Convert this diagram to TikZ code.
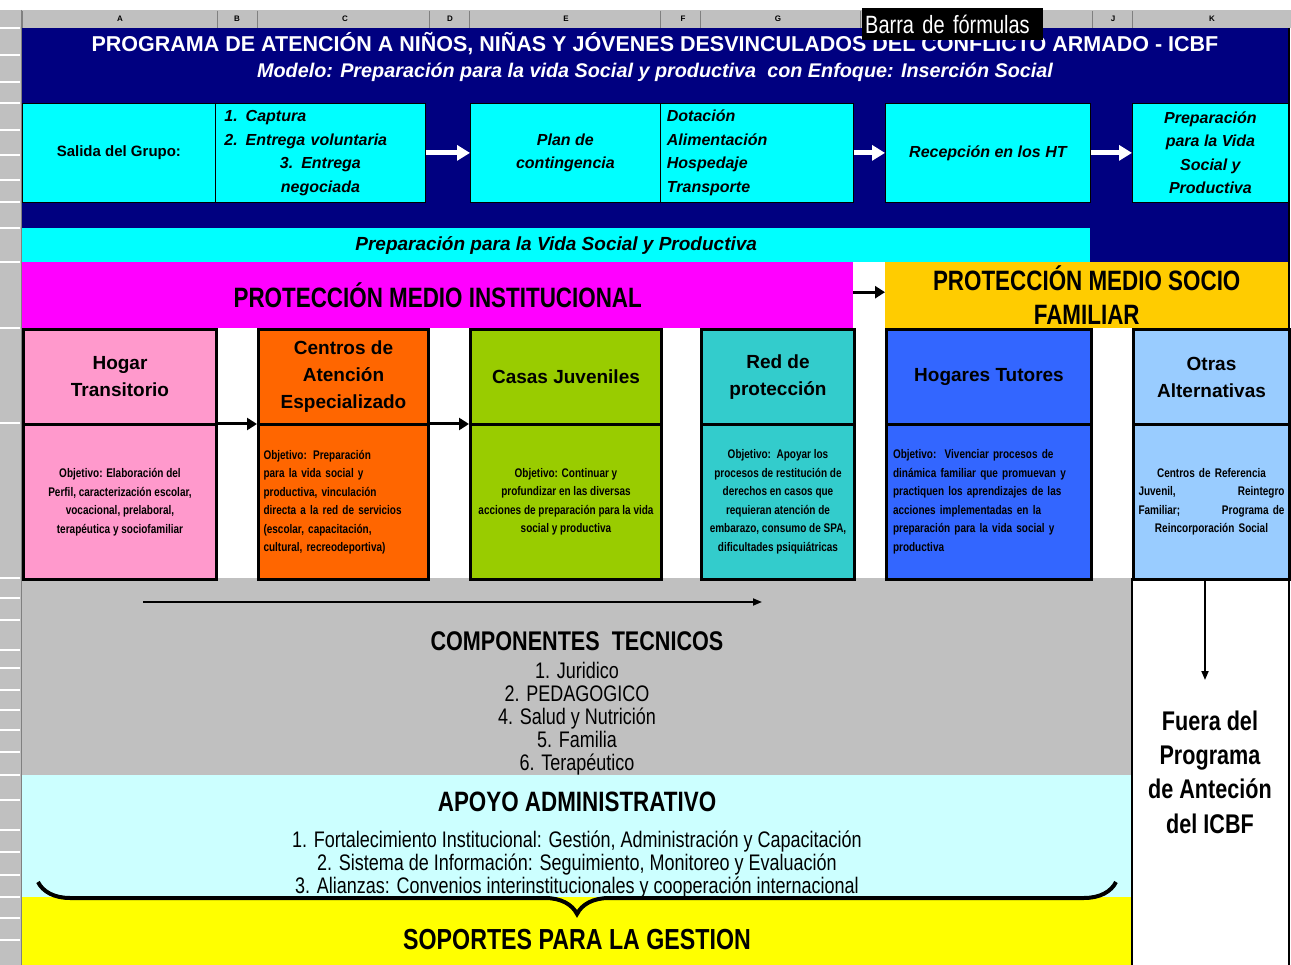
\documentclass[tikz,border=0pt]{standalone}
\usepackage{fontspec}
\setmainfont{Liberation Sans}
\newfontfamily\nar[FakeStretch=0.8]{Liberation Sans}
\usetikzlibrary{arrows.meta,decorations.pathreplacing}
\definecolor{navyc}{HTML}{000080}
\definecolor{cyanc}{HTML}{00FFFF}
\definecolor{magentac}{HTML}{FF00FF}
\definecolor{goldc}{HTML}{FFCC00}
\definecolor{pinkc}{HTML}{FF99CC}
\definecolor{orangec}{HTML}{FF6600}
\definecolor{greenc}{HTML}{99CC00}
\definecolor{tealc}{HTML}{33CCCC}
\definecolor{bluec}{HTML}{3366FF}
\definecolor{lbluec}{HTML}{99CCFF}
\definecolor{grayc}{HTML}{C0C0C0}
\definecolor{lcyanc}{HTML}{CCFFFF}
\definecolor{yellowc}{HTML}{FFFF00}
\definecolor{sheetgray}{HTML}{C0C0C0}
\definecolor{sheetline}{HTML}{808080}
\begin{document}
\begin{tikzpicture}[x=1pt,y=-1pt,
  cybox/.style={fill=cyanc, draw=black, line width=0.8pt, anchor=north west, inner sep=0pt, align=center, minimum height=99pt, font=\bfseries\itshape\fontsize{16}{23.5}\selectfont},
  tcell/.style={draw=black, line width=3pt, anchor=north west, inner sep=0pt, align=center, minimum height=95pt, font=\bfseries\fontsize{19}{27}\selectfont},
  ocell/.style={draw=black, line width=3pt, anchor=north west, inner sep=0pt, align=center, minimum height=155pt, font=\nar\bfseries\fontsize{12.5}{18.5}\selectfont},
  band/.style={anchor=north west, inner sep=0pt, draw=none},
  bigtxt/.style={inner sep=0pt, align=center, font=\nar\bfseries\fontsize{28}{30}\selectfont},
  listtxt/.style={inner sep=0pt, align=center, font=\nar\fontsize{22.5}{23}\selectfont},
  wArrow/.style={draw=white, line width=5pt, -{Triangle[length=13pt,width=15pt]}},
  bArrow/.style={draw=black, line width=3pt, -{Triangle[length=10pt,width=12pt]}},
  tArrow/.style={draw=black, line width=1.8pt, -{Triangle[length=9pt,width=7pt]}},
  colhead/.style={inner sep=0pt, font=\bfseries\fontsize{8}{8}\selectfont}
]
\useasboundingbox (0,0) rectangle (1291,965);
\fill[white] (0,0) rectangle (1291,965);
% spreadsheet chrome
\fill[sheetgray] (0,10) rectangle (1291,28);
\fill[sheetgray] (0,28) rectangle (22,965);
\foreach \x in {22,217,257,429,469,660,700,860,1092,1132}
  \draw[sheetline, line width=1pt] (\x,11) -- (\x,28);
\foreach \y in {28,55,82,103,130,155,180,202,228,262,328,423,578,598,620,650,668,690,710,730,752,775,800,830,852,875,897,918,940}
  \draw[white, line width=1.2pt] (0,\y) -- (20,\y);
\draw[sheetline, line width=1pt] (21,10) -- (21,965);
\foreach \l/\x in {A/120,B/237,C/345,D/450,E/566,F/683,G/778,J/1113,K/1212}
  \node[colhead] (col\l) at (\x,19) {\l};
% navy header area
\fill[navyc] (22,28) rectangle (1288,262);
\node[text=white, inner sep=0pt, font=\bfseries\fontsize{21.5}{24}\selectfont] (title) at (655,44) {PROGRAMA DE ATENCIÓN A NIÑOS, NIÑAS Y JÓVENES DESVINCULADOS DEL CONFLICTO ARMADO - ICBF};
\node[text=white, inner sep=0pt, font=\bfseries\itshape\fontsize{19.8}{22}\selectfont] (subtitle) at (655,72) {Modelo: Preparación para la vida Social y productiva\ \ con Enfoque: Inserción Social};
% top flow
\node[cybox, minimum width=193pt, font=\bfseries\fontsize{15}{18}\selectfont] (sal) at (22,103) {Salida del Grupo:};
\node[cybox, minimum width=210pt, text width=192pt] (cap) at (215,103) {{\raggedright 1. Captura\\2. Entrega voluntaria\par}{\centering 3. Entrega\\negociada\par}};
\node[cybox, minimum width=190pt] (pc) at (470,103) {Plan de\\contingencia};
\node[cybox, minimum width=193pt, text width=180pt, align=left] (dot) at (660,103) {Dotación\\Alimentación\\Hospedaje\\Transporte};
\node[cybox, minimum width=205pt] (rht) at (885,103) {Recepción en los HT};
\node[cybox, minimum width=156pt] (pvs) at (1132,103) {Preparación\\para la Vida\\Social y\\Productiva};
\node[band, fill=cyanc, minimum width=1068pt, minimum height=34pt, font=\bfseries\itshape\fontsize{19}{22}\selectfont] (bar) at (22,228) {Preparación para la Vida Social y Productiva};
% protection bands
\node[band, fill=magentac, minimum width=831pt, minimum height=66pt, font=\nar\bfseries\fontsize{28}{34}\selectfont] (pmi) at (22,262) {PROTECCIÓN MEDIO INSTITUCIONAL};
\node[band, fill=goldc, minimum width=403pt, minimum height=66pt, align=center, font=\nar\bfseries\fontsize{28}{34}\selectfont] (pmsf) at (885,262) {PROTECCIÓN MEDIO SOCIO\\FAMILIAR};
% lower bands
\node[band, fill=grayc, minimum width=1110pt, minimum height=197pt] (comps) at (22,578) {};
\node[band, fill=lcyanc, minimum width=1110pt, minimum height=122pt] (apoy) at (22,775) {};
\node[band, fill=yellowc, minimum width=1110pt, minimum height=68pt] (sopb) at (22,897) {};
% modality cells
\node[tcell, fill=pinkc, minimum width=193pt] (ht) at (22,328) {Hogar\\Transitorio};
\node[tcell, fill=orangec, minimum width=170pt] (cae) at (257,328) {Centros de\\Atención\\Especializado};
\node[tcell, fill=greenc, minimum width=191pt] (cj) at (469,328) {Casas Juveniles};
\node[tcell, fill=tealc, minimum width=153pt] (rp) at (700,328) {Red de\\protección};
\node[tcell, fill=bluec, minimum width=205pt] (hgt) at (885,328) {Hogares Tutores};
\node[tcell, fill=lbluec, minimum width=156pt] (oa) at (1132,328) {Otras\\Alternativas};
\node[ocell, fill=pinkc, minimum width=193pt] (hto) at (22,423) {Objetivo: Elaboración del\\Perfil, caracterización escolar,\\vocacional, prelaboral,\\terapéutica y sociofamiliar};
\node[ocell, fill=orangec, minimum width=170pt, text width=160pt, align=left] (caeo) at (257,423) {Objetivo: Preparación\\para la vida social y\\productiva, vinculación\\directa a la red de servicios\\(escolar, capacitación,\\cultural, recreodeportiva)};
\node[ocell, fill=greenc, minimum width=191pt] (cjo) at (469,423) {Objetivo: Continuar y\\profundizar en las diversas\\acciones de preparación para la vida\\social y productiva};
\node[ocell, fill=tealc, minimum width=153pt] (rpo) at (700,423) {Objetivo:\ \ Apoyar los\\procesos de restitución de\\derechos en casos que\\requieran atención de\\embarazo, consumo de SPA,\\dificultades psiquiátricas};
\node[ocell, fill=bluec, minimum width=205pt, text width=192pt, align=left] (hgto) at (885,423) {Objetivo:\ \ Vivenciar procesos de\\dinámica familiar que promuevan y\\practiquen los aprendizajes de las\\acciones implementadas en la\\preparación para la vida social y\\productiva};
\node[ocell, fill=lbluec, minimum width=156pt, text width=146pt] (oao) at (1132,423) {Centros de Referencia\\Juvenil,\hfill Reintegro\\Familiar;\hfill Programa de\\Reincorporación Social};
% texts of lower bands
\node[bigtxt, font=\nar\bfseries\fontsize{27}{30}\selectfont] (comp) at (577,641) {COMPONENTES\ \ TECNICOS};
\node[listtxt] (compl) at (577,719) {1. Juridico\\2. PEDAGOGICO\\4. Salud y Nutrición\\5. Familia\\6. Terapéutico};
\node[bigtxt] (apoyo) at (577,802) {APOYO ADMINISTRATIVO};
\node[listtxt] (apoyol) at (577,865) {1. Fortalecimiento Institucional: Gestión, Administración y Capacitación\\2. Sistema de Información: Seguimiento, Monitoreo y Evaluación\\3. Alianzas: Convenios interinstitucionales y cooperación internacional};
\node[bigtxt, font=\nar\bfseries\fontsize{29}{30}\selectfont] (sop) at (577,940) {SOPORTES PARA LA GESTION};
% right column
\draw[black, line width=2pt] (1132,578) -- (1132,965);
\draw[black, line width=2pt] (1289,28) -- (1289,965);
\node[inner sep=0pt, align=center, font=\nar\bfseries\fontsize{27}{34.3}\selectfont] (fuera) at (1210,772) {Fuera del\\Programa\\de Anteción\\del ICBF};
% connectors
\draw[wArrow] (cap.east) -- (pc.west);
\draw[wArrow] (dot.east) -- (rht.west);
\draw[wArrow] (rht.east) -- (pvs.west);
\draw[bArrow] ([yshift=2pt]ht.south east) -- ([yshift=2pt]cae.south west);
\draw[bArrow] ([yshift=2pt]cae.south east) -- ([yshift=2pt]cj.south west);
\draw[bArrow] ([yshift=3pt]pmi.east) -- ([yshift=3pt]pmsf.west);
\coordinate (ga1) at (143,602);
\coordinate (ga2) at (762,602);
\draw[tArrow] (ga1) -- (ga2);
\coordinate (fa) at (1205,680);
\draw[tArrow] (oao.south -| fa) -- (fa);
\coordinate (br1) at (38,882);
\coordinate (br2) at (1116,882);
\draw[decorate, decoration={brace, mirror, amplitude=32pt}, line width=4pt] (br1) -- (br2);
% tooltip
\node[fill=black, text=white, anchor=north west, minimum width=181pt, minimum height=32pt, inner sep=3pt, text width=175pt, align=left, font=\nar\fontsize{25}{26}\selectfont] (tip) at (862,8) {Barra de fórmulas};
\end{tikzpicture}
\end{document}
